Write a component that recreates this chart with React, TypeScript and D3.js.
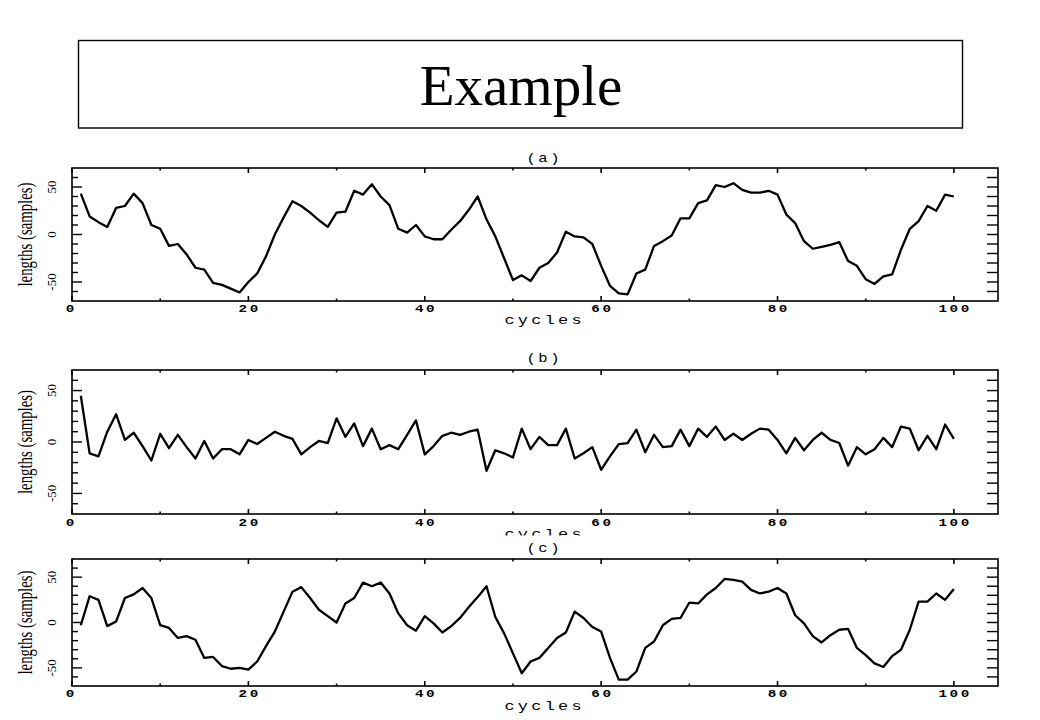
import React from "react";
import * as d3 from "d3";

// cycle numbers and the three traces
const cycles = d3.range(1, 101);

const seriesA = [
  43, 19, 13, 8, 28, 30, 43, 33, 10, 6,
  -12, -10, -21, -35, -37, -51, -53, -57, -61, -50,
  -41, -23, 0, 18, 35, 30, 23, 15, 8, 23,
  24, 46, 42, 53, 40, 31, 6, 2, 10, -2,
  -5, -5, 5, 14, 26, 40, 16, -2, -25, -48,
  -43, -49, -35, -30, -19, 3, -2, -3, -10, -33,
  -54, -62, -63, -41, -37, -12, -7, -1, 17, 17,
  33, 36, 52, 50, 54, 47, 44, 44, 46, 42,
  21, 12, -7, -15, -13, -11, -8, -28, -33, -47,
  -52, -44, -42, -16, 6, 14, 30, 25, 42, 40,
];

const seriesB = [
  45, -11, -14, 10, 27, 2, 9, -4, -18, 8,
  -6, 7, -5, -16, 1, -16, -7, -7, -12, 2,
  -2, 4, 10, 6, 3, -12, -5, 1, -1, 23,
  5, 18, -4, 13, -7, -3, -7, 7, 21, -12,
  -4, 6, 9, 7, 10, 12, -28, -8, -11, -15,
  13, -7, 5, -3, -3, 13, -16, -11, -5, -27,
  -14, -2, -1, 12, -10, 7, -5, -4, 12, -4,
  13, 5, 15, 2, 8, 2, 8, 13, 12, 2,
  -11, 4, -8, 2, 9, 2, -1, -23, -5, -12,
  -7, 4, -5, 15, 13, -8, 6, -7, 17, 3,
];

const seriesC = [
  -3, 29, 25, -4, 1, 27, 31, 38, 27, -3,
  -6, -17, -15, -19, -39, -38, -48, -51, -50, -52,
  -43, -26, -10, 12, 34, 39, 27, 14, 7, 0,
  21, 27, 44, 40, 44, 32, 10, -3, -9, 7,
  -1, -11, -4, 5, 17, 28, 40, 6, -12, -34,
  -56, -43, -39, -28, -17, -11, 12, 5, -5, -10,
  -39, -63, -63, -54, -28, -21, -3, 4, 5, 22,
  21, 31, 38, 48, 47, 45, 36, 32, 34, 38,
  32, 8, -1, -15, -22, -14, -8, -7, -28, -36,
  -45, -49, -37, -30, -8, 23, 23, 32, 25, 37,
];

const panelLabels = ["(a)", "(b)", "(c)"];
const xTickValues = d3.range(0, 101, 10);
const xTickLabels = [0, 20, 40, 60, 80, 100];
const yTickValues = d3.range(-60, 61, 10);
const yTickLabels = [50, 0, -50];
const title = "Example";
const xTitle = "cycles";
const yTitle = "lengths (samples)";

const W = 1040;
const H = 720;
const left = 72;
const right = 998;

const x = d3.scaleLinear().domain([0, 105]).range([left, right]);

const mono = "'Liberation Mono', 'DejaVu Sans Mono', monospace";
const serif = "'Liberation Serif', 'DejaVu Serif', serif";

type PanelProps = {
  id: string;
  label: string;
  values: number[];
  top: number;
  bottom: number;
  labelY: number;
  tickY: number;
  cyclesY: number;
  clipBelow?: number;
};

const Panel = ({ id, label, values, top, bottom, labelY, tickY, cyclesY, clipBelow }: PanelProps) => {
  const y = d3.scaleLinear().domain([-70, 70]).range([bottom, top]);
  const line = d3
    .line<number>()
    .x((_, i) => x(cycles[i]))
    .y((d) => y(d));
  const midX = (left + right) / 2 + 8;
  const midY = (top + bottom) / 2;

  return (
    <g>
      {clipBelow !== undefined && (
        <clipPath id={`clip-${id}`}>
          <rect x={0} y={0} width={W} height={clipBelow} />
        </clipPath>
      )}
      <text
        transform={`translate(${midX},${labelY}) scale(1.3,1)`}
        textAnchor="middle"
        fontFamily={mono}
        fontSize={12}
        letterSpacing={2}
        dx={1}
      >
        {label}
      </text>

      {/* data */}
      <path d={line(values) || ""} fill="none" stroke="#000" strokeWidth={2.3} strokeLinejoin="round" />

      {/* frame */}
      <rect x={left} y={top} width={right - left} height={bottom - top} fill="none" stroke="#000" strokeWidth={1.6} />

      {/* x ticks, top and bottom */}
      {xTickValues.map((t) => {
        const len = t % 20 === 0 ? 5 : 2.5;
        return (
          <g key={`xt${t}`} stroke="#000" strokeWidth={1.6}>
            <line x1={x(t)} x2={x(t)} y1={bottom} y2={bottom - len} />
            <line x1={x(t)} x2={x(t)} y1={top} y2={top + len} />
          </g>
        );
      })}

      {/* y ticks, left and right */}
      {yTickValues.map((t) => {
        const len = t % 50 === 0 ? 10 : 6;
        return (
          <g key={`yt${t}`} stroke="#000" strokeWidth={1.4}>
            <line x1={left} x2={left + len} y1={y(t)} y2={y(t)} />
            <line x1={right} x2={right - 11} y1={y(t)} y2={y(t)} />
          </g>
        );
      })}

      {xTickLabels.map((t) => (
        <text
          key={`xl${t}`}
          transform={`translate(${t === 0 ? x(t) - 2 : x(t)},${tickY}) scale(1.3,1)`}
          textAnchor="middle"
          fontFamily={mono}
          fontWeight="bold"
          fontSize={11}
          letterSpacing={2}
          dx={1}
        >
          {t}
        </text>
      ))}

      {yTickLabels.map((t) => (
        <text
          key={`yl${t}`}
          transform={`translate(56,${y(t)}) rotate(-90)`}
          textAnchor="middle"
          fontFamily={serif}
          fontSize={13}
        >
          {t}
        </text>
      ))}

      <text
        transform={`translate(32,${midY}) rotate(-90)`}
        textAnchor="middle"
        fontFamily={serif}
        fontSize={21}
        textLength={104}
        lengthAdjust="spacingAndGlyphs"
      >
        {yTitle}
      </text>

      {/* the (b) label is partly hidden under panel (c) in the original */}
      <g clipPath={clipBelow !== undefined ? `url(#clip-${id})` : undefined}>
        <text
          transform={`translate(${midX},${cyclesY}) scale(1.3,1)`}
          textAnchor="middle"
          fontFamily={mono}
          fontSize={13}
          letterSpacing={2.5}
          dx={1.25}
        >
          {xTitle}
        </text>
      </g>
    </g>
  );
};

const App = () => {
  const layout = [
    { top: 168, bottom: 301, labelY: 162, tickY: 312, cyclesY: 324 },
    { top: 370, bottom: 514, labelY: 362, tickY: 526, cyclesY: 538, clipBelow: 535.5 },
    { top: 559, bottom: 686, labelY: 552, tickY: 697, cyclesY: 710 },
  ];
  const series = [seriesA, seriesB, seriesC];

  return (
    <svg
      width={W}
      height={H}
      style={{ position: "absolute", left: 0, top: 0, background: "#fff" }}
    >
      <rect x={0} y={0} width={W} height={H} fill="#fff" />
      <rect x={78.5} y={40.5} width={884} height={87.5} fill="#fff" stroke="#000" strokeWidth={1.4} />
      <text x={521} y={105} textAnchor="middle" fontFamily={serif} fontSize={57}>
        {title}
      </text>
      {layout.map((p, i) => (
        <Panel
          key={panelLabels[i]}
          id={`p${i}`}
          label={panelLabels[i]}
          values={series[i]}
          {...p}
        />
      ))}
    </svg>
  );
};

export default App;
